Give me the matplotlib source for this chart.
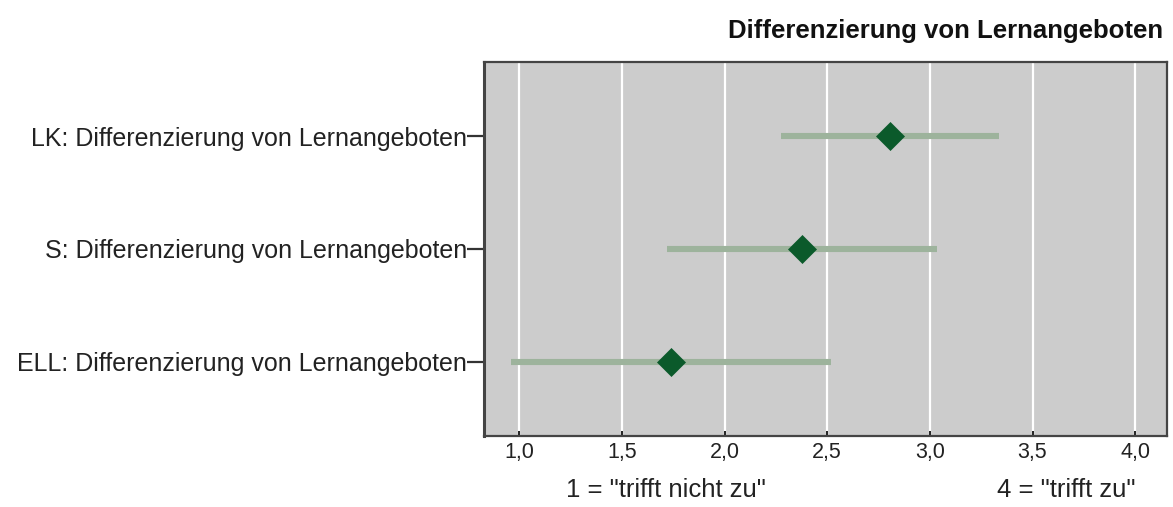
import matplotlib
matplotlib.use("Agg")
import matplotlib.pyplot as plt
from matplotlib.ticker import FuncFormatter

# Mean ratings with 95% confidence intervals
categories = [
    "LK: Differenzierung von Lernangeboten",
    "S: Differenzierung von Lernangeboten",
    "ELL: Differenzierung von Lernangeboten",
]
means = [2.806, 2.375, 1.737]
ci_low = [2.273, 1.718, 0.958]
ci_high = [3.337, 3.033, 2.517]

x_ticks = [1.0, 1.5, 2.0, 2.5, 3.0, 3.5, 4.0]
title = "Differenzierung von Lernangeboten"
low_anchor = '1 = "trifft nicht zu"'
high_anchor = '4 = "trifft zu"'

plt.rcParams["font.family"] = ["Liberation Sans", "DejaVu Sans"]

W, H = 1173, 507
fig = plt.figure(figsize=(W / 100, H / 100), dpi=100)
fig.patch.set_facecolor("white")

ax_l, ax_r, ax_t, ax_b = 484, 1167, 62, 436
ax = fig.add_axes([ax_l / W, 1 - ax_b / H, (ax_r - ax_l) / W, (ax_b - ax_t) / H])
ax.set_facecolor("#cccccc")

ypos = list(range(len(categories)))
for y, lo, hi, m in zip(ypos, ci_low, ci_high, means):
    ax.plot([lo, hi], [y, y], color="#9db39c", lw=4.4, solid_capstyle="butt", zorder=3)
    ax.plot([m], [y], marker="D", markersize=14.5, color="#0b5a2b",
            markeredgecolor="#0b5a2b", markeredgewidth=0.5, zorder=4)

ax.set_xlim(0.828, 4.155)
ax.set_ylim(2.66, -0.66)

ax.set_xticks(x_ticks)
ax.xaxis.set_major_formatter(FuncFormatter(lambda v, p: f"{v:.1f}".replace(".", ",")))
ax.grid(axis="x", color="white", lw=1.6, zorder=1)
ax.set_axisbelow(True)

ax.set_yticks(ypos)
ax.set_yticklabels(categories)

ax.tick_params(axis="x", direction="in", length=3.5, width=1.4, color="#222222",
               labelsize=15.5, labelcolor="#222222", pad=4)
ax.tick_params(axis="y", direction="out", length=12, width=1.6, color="#333333",
               labelsize=18, labelcolor="#222222", pad=0)

for s in ax.spines.values():
    s.set_color("#444444")
    s.set_linewidth(1.6)
ax.spines["left"].set_linewidth(2.2)

fig.text(1163 / W, 1 - 31 / H, title, ha="right", va="center",
         fontsize=18.5, fontweight="bold", color="#111111")
fig.text(666 / W, 1 - 490 / H, low_anchor, ha="center", va="center",
         fontsize=18.5, color="#222222")
fig.text(1066 / W, 1 - 490 / H, high_anchor, ha="center", va="center",
         fontsize=18.5, color="#222222")

fig.savefig("out.png", dpi=100, facecolor="white")
